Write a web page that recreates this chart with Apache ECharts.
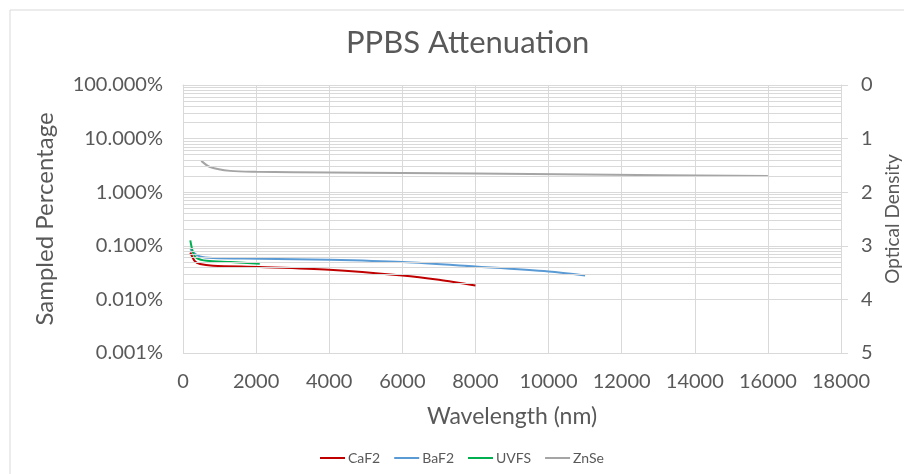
<!DOCTYPE html>
<html>
<head>
<meta charset="utf-8">
<script src="https://cdn.jsdelivr.net/npm/echarts@6/dist/echarts.min.js"></script>
<style>
html,body{margin:0;padding:0;background:#fff;overflow:hidden;}
#chart{width:904px;height:474px;}
</style>
</head>
<body>
<div id="chart"></div>
<script>
// Wavelength (nm), sampled percentage (%)
var caf2 = [[200,0.075],[330,0.051],[465,0.0456],[820,0.0424],[2100,0.0401],[4000,0.0357],[6000,0.0279],[7000,0.0232],[8000,0.0182]];
var baf2 = [[200,0.09],[250,0.078],[465,0.063],[820,0.059],[2100,0.0575],[4000,0.0548],[6000,0.0497],[8000,0.041],[10000,0.0332],[11000,0.0279]];
var uvfs = [[200,0.126],[280,0.073],[375,0.059],[650,0.0525],[1300,0.0497],[2100,0.0461]];
var znse = [[500,3.84],[740,2.96],[1290,2.5],[2000,2.4],[4000,2.33],[8000,2.23],[11000,2.14],[16000,2.0]];
var seriesNames = ['CaF2','BaF2','UVFS','ZnSe'];
var xTicks = {min:0, max:18000, interval:2000};
var decades = [0.001,0.01,0.1,1,10];
var minorMult = [2,3,4,5,6,7,8,9];

var minorLines = [];
decades.forEach(function(d){ minorMult.forEach(function(m){ minorLines.push({yAxis: d*m}); }); });

var txt = '#595959', font = 'Lato';
var chart = echarts.init(document.getElementById('chart'), null, {width:904, height:474});
function mk(name, data, color){
  return {name:name, type:'line', data:data, showSymbol:false, smooth:0.3, lineStyle:{width:2, color:color}, itemStyle:{color:color}};
}
chart.setOption({
  backgroundColor:'#fff',
  animation:false,
  textStyle:{fontFamily:font},
  title:{text:'PPBS Attenuation', left:341, top:22, textStyle:{fontFamily:font, fontSize:31, fontWeight:'normal', color:txt}},
  graphic:[{type:'rect', shape:{x:10,y:10,width:1000,height:1000}, style:{fill:'none', stroke:'#d9d9d9', lineWidth:1}, silent:true}],
  legend:{data:seriesNames, bottom:4, left:315, icon:'rect', itemWidth:25, itemHeight:2, itemGap:14,
    textStyle:{fontFamily:font, fontSize:14, color:txt, padding:[0,0,0,-2]}},
  grid:{left:183, right:63, top:85, bottom:121, containLabel:false, outerBoundsMode:'none'},
  xAxis:{type:'value', min:xTicks.min, max:xTicks.max, interval:xTicks.interval,
    name:'Wavelength (nm)', nameLocation:'middle', nameGap:52, nameTextStyle:{fontSize:23, color:txt, fontFamily:font},
    axisLine:{show:true, lineStyle:{color:'#d9d9d9'}}, axisTick:{show:false},
    axisLabel:{fontSize:20, color:txt, margin:19, fontFamily:font, formatter:function(v){return String(v);}},
    splitLine:{show:true, lineStyle:{color:'#d9d9d9'}}},
  yAxis:[
    {type:'log', logBase:10, min:0.001, max:100, position:'left',
     name:'Sampled Percentage', nameLocation:'middle', nameRotate:90, nameGap:126,
     nameTextStyle:{fontSize:24, color:txt, fontFamily:font},
     axisLine:{show:true, lineStyle:{color:'#d9d9d9'}}, axisTick:{show:false},
     axisLabel:{fontSize:20, color:txt, margin:20, fontFamily:font, formatter:function(v){return v.toFixed(3)+'%';}},
     splitLine:{show:true, lineStyle:{color:'#d9d9d9'}}},
    {type:'value', min:0, max:5, interval:1, inverse:true, position:'right',
     name:'Optical Density', nameLocation:'middle', nameRotate:90, nameGap:41,
     nameTextStyle:{fontSize:19, color:txt, fontFamily:font},
     axisLine:{show:true, lineStyle:{color:'#d9d9d9'}}, axisTick:{show:true, length:7, lineStyle:{color:'#d9d9d9'}},
     axisLabel:{fontSize:20, color:txt, margin:20, fontFamily:font},
     splitLine:{show:false}}
  ],
  series:[
    {name:'grid-minor', type:'line', data:[], yAxisIndex:0, silent:true,
     markLine:{silent:true, symbol:['none','none'], label:{show:false}, animation:false,
       lineStyle:{color:'#d9d9d9', width:1, type:'solid'}, data:minorLines}},
    mk('CaF2', caf2, '#C00000'),
    mk('BaF2', baf2, '#5B9BD5'),
    mk('UVFS', uvfs, '#00B050'),
    mk('ZnSe', znse, '#A5A5A5')
  ]
});
</script>
</body>
</html>
